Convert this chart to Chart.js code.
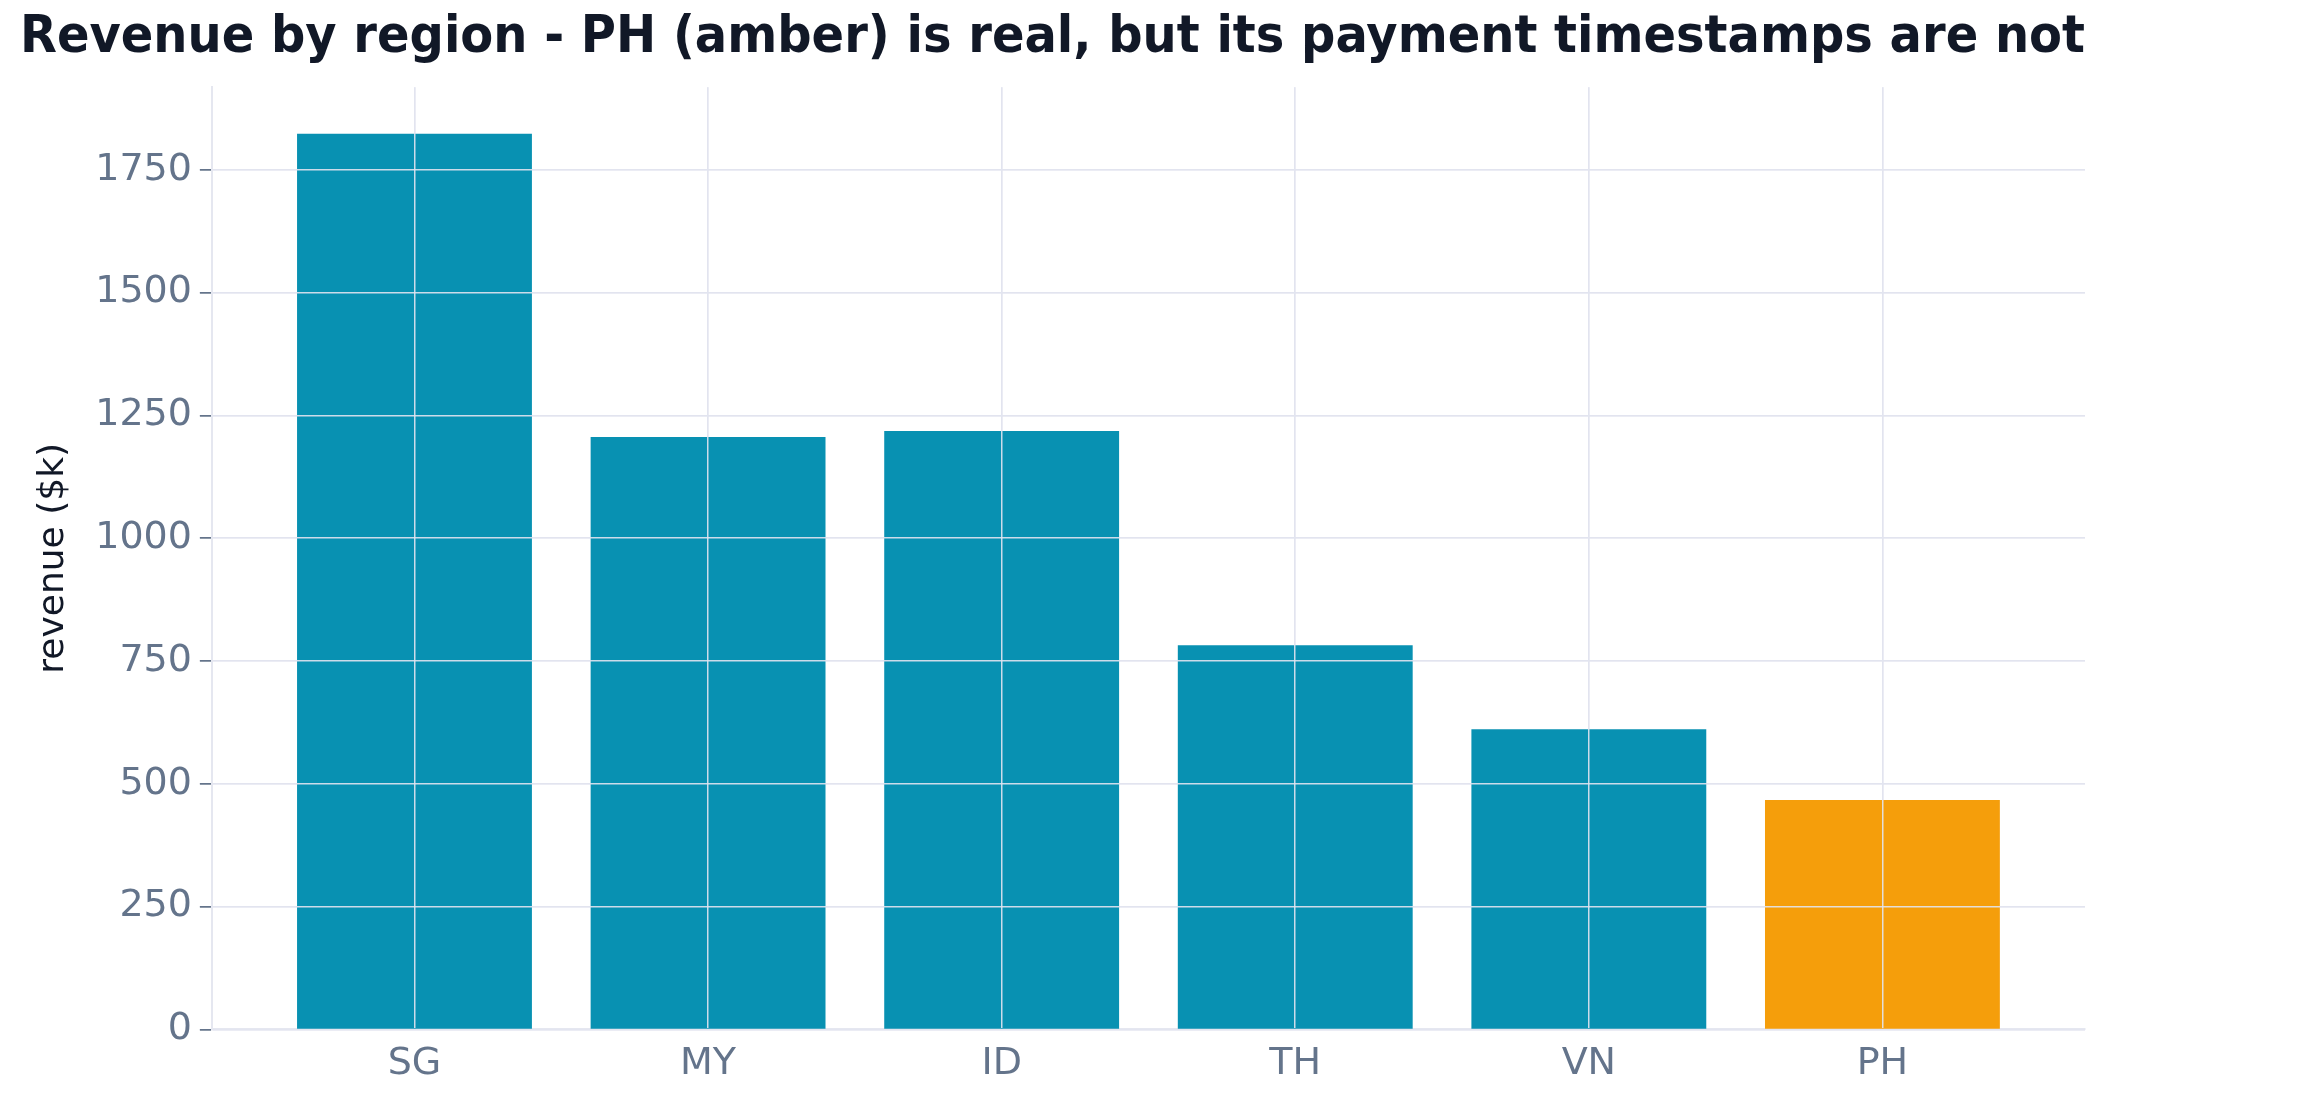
<!DOCTYPE html>
<html><head><meta charset="utf-8">
<script src="https://cdn.jsdelivr.net/npm/chart.js@4"></script>
<style>html,body{margin:0;padding:0;background:#fff}#w{width:2305px;height:1119px}</style>
</head><body><div id="w"><canvas id="c"></canvas></div>
<script>
const categories = ["SG","MY","ID","TH","VN","PH"];
const revenue = [1823, 1206, 1218, 782, 611, 467];
const barColors = ["#0891b2","#0891b2","#0891b2","#0891b2","#0891b2","#f59e0b"];
const yTicks = [0,250,500,750,1000,1250,1500,1750];

const gridOnTop = { id: 'gridOnTop', afterDatasetsDraw(chart) {
  chart.scales.x.drawGrid(chart.chartArea);
  chart.scales.y.drawGrid(chart.chartArea);
} };

new Chart(document.getElementById('c'), {
  type: 'bar',
  plugins: [gridOnTop],
  data: { datasets: [{ data: revenue.map((v,i)=>({x:i,y:v})), backgroundColor: barColors,
    categoryPercentage: 1, barPercentage: 0.8 }] },
  options: {
    responsive: true, maintainAspectRatio: false, animation: false,
    layout: { padding: { left: 20, right: 220, top: 8, bottom: 20 } },
    plugins: { legend: { display: false }, tooltip: { enabled: false },
      title: { display: true, text: 'Revenue by region - PH (amber) is real, but its payment timestamps are not',
        color: '#111827', font: { family: 'DejaVu Sans', size: 51, weight: 'bold' }, padding: { top: 0, bottom: 18 } } },
    scales: {
      x: { type: 'linear', min: -0.69, max: 5.69, offset: false,
        afterBuildTicks: s => { s.ticks = categories.map((_,i)=>({value:i})); },
        ticks: { callback: v => categories[v], color: '#64748b', font: { family: 'DejaVu Sans', size: 38 }, padding: 12 },
        grid: { offset: false, color: 'rgba(226,228,240,0.9)', lineWidth: 1.5, drawTicks: false },
        border: { color: '#e5e7f0', width: 2 } },
      y: { min: 0, max: 1918,
        afterBuildTicks: s => { s.ticks = yTicks.map(v=>({value:v})); },
        ticks: { callback: v => String(v), color: '#64748b', font: { family: 'DejaVu Sans', size: 38 }, padding: 8 },
        grid: { color: 'rgba(226,228,240,0.9)', lineWidth: 1.5, tickLength: 12, tickColor: '#64748b' },
        border: { color: '#e5e7f0', width: 2 },
        title: { display: true, text: 'revenue ($k)', color: '#111827', font: { family: 'DejaVu Sans', size: 36 }, padding: 12 } }
    }
  }
});
</script></body></html>
